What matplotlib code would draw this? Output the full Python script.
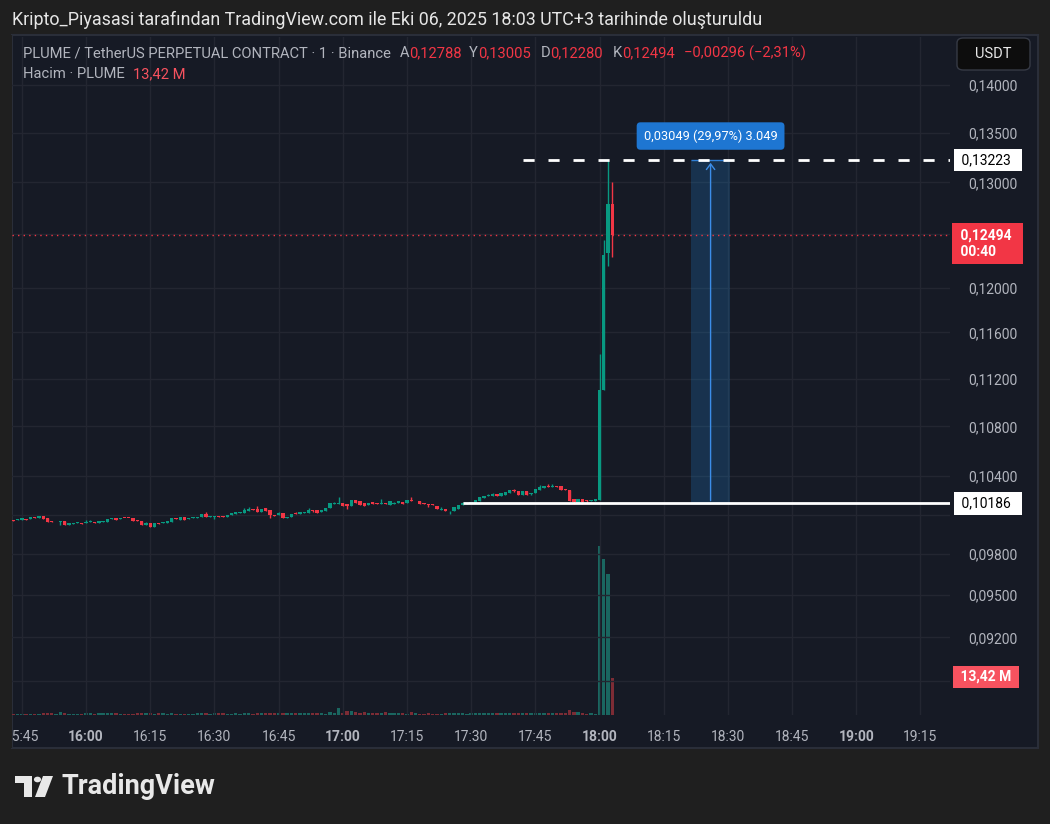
import numpy as np
import matplotlib.pyplot as plt
from matplotlib.patches import Rectangle, FancyBboxPatch, Circle, Polygon
from matplotlib.transforms import blended_transform_factory

plt.rcParams['font.family'] = ['Roboto', 'DejaVu Sans']

W, H = 1050, 824

# time axis: minutes counted from the first candle (15:43)
start_time = '15:43'
time_labels = ['15:45', '16:00', '16:15', '16:30', '16:45', '17:00', '17:15',
               '17:30', '17:45', '18:00', '18:15', '18:30', '18:45', '19:00', '19:15']

price_ticks = [0.14, 0.135, 0.13, 0.125, 0.12, 0.116, 0.112, 0.108, 0.104,
               0.101, 0.098, 0.095, 0.092, 0.089]
hidden_ticks = [0.125, 0.101, 0.089]   # covered by the price-scale boxes

opens = [0.10057, 0.10062, 0.10057, 0.10067, 0.10065, 0.10080, 0.10072, 0.10092, 0.10070, 0.10047,
         0.10047, 0.10045, 0.10050, 0.10019, 0.10027, 0.10037, 0.10037, 0.10037, 0.10041, 0.10040,
         0.10037, 0.10042, 0.10042, 0.10065, 0.10077, 0.10065, 0.10077, 0.10077, 0.10072, 0.10055,
         0.10047, 0.10019, 0.10032, 0.10004, 0.10032, 0.10035, 0.10035, 0.10042, 0.10070, 0.10057,
         0.10085, 0.10067, 0.10072, 0.10077, 0.10080, 0.10108, 0.10080, 0.10085, 0.10092, 0.10087,
         0.10080, 0.10100, 0.10103, 0.10110, 0.10110, 0.10130, 0.10143, 0.10143, 0.10123, 0.10148,
         0.10138, 0.10100, 0.10097, 0.10110, 0.10077, 0.10080, 0.10113, 0.10105, 0.10115, 0.10115,
         0.10138, 0.10138, 0.10118, 0.10125, 0.10150, 0.10181, 0.10178, 0.10186, 0.10178, 0.10163,
         0.10213, 0.10203, 0.10186, 0.10171, 0.10196, 0.10191, 0.10178, 0.10193, 0.10176, 0.10178,
         0.10186, 0.10198, 0.10186, 0.10213, 0.10201, 0.10206, 0.10188, 0.10181, 0.10183, 0.10168,
         0.10138, 0.10145, 0.10125, 0.10125, 0.10145, 0.10173, 0.10181, 0.10188, 0.10186, 0.10208,
         0.10228, 0.10244, 0.10246, 0.10259, 0.10246, 0.10251, 0.10269, 0.10289, 0.10281, 0.10251,
         0.10284, 0.10259, 0.10266, 0.10289, 0.10307, 0.10322, 0.10314, 0.10324, 0.10319, 0.10297,
         0.10289, 0.10218, 0.10193, 0.10218, 0.10213, 0.10201, 0.10201, 0.10212, 0.11100, 0.12324,
         0.12788]

closes = [0.10050, 0.10063, 0.10070, 0.10060, 0.10080, 0.10072, 0.10092, 0.10065, 0.10042, 0.10040,
          0.10048, 0.10047, 0.10019, 0.10032, 0.10032, 0.10040, 0.10030, 0.10042, 0.10042, 0.10037,
          0.10050, 0.10050, 0.10067, 0.10077, 0.10062, 0.10077, 0.10072, 0.10072, 0.10050, 0.10047,
          0.10019, 0.10032, 0.10004, 0.10032, 0.10027, 0.10042, 0.10050, 0.10070, 0.10065, 0.10085,
          0.10062, 0.10072, 0.10080, 0.10085, 0.10108, 0.10080, 0.10087, 0.10092, 0.10085, 0.10080,
          0.10100, 0.10115, 0.10120, 0.10118, 0.10138, 0.10143, 0.10135, 0.10123, 0.10143, 0.10128,
          0.10095, 0.10092, 0.10110, 0.10072, 0.10085, 0.10108, 0.10103, 0.10118, 0.10123, 0.10138,
          0.10128, 0.10110, 0.10133, 0.10153, 0.10186, 0.10186, 0.10186, 0.10163, 0.10163, 0.10213,
          0.10191, 0.10173, 0.10163, 0.10191, 0.10178, 0.10178, 0.10193, 0.10178, 0.10206, 0.10188,
          0.10203, 0.10178, 0.10213, 0.10208, 0.10208, 0.10178, 0.10181, 0.10176, 0.10173, 0.10140,
          0.10145, 0.10125, 0.10130, 0.10155, 0.10173, 0.10191, 0.10193, 0.10193, 0.10213, 0.10234,
          0.10244, 0.10251, 0.10256, 0.10246, 0.10264, 0.10276, 0.10289, 0.10281, 0.10251, 0.10281,
          0.10251, 0.10266, 0.10297, 0.10312, 0.10322, 0.10314, 0.10322, 0.10314, 0.10294, 0.10287,
          0.10206, 0.10196, 0.10223, 0.10198, 0.10206, 0.10211, 0.10221, 0.11103, 0.12302, 0.12788,
          0.12494]

# wicks that stick out beyond the body (candle index -> price)
wick_highs = {17: 0.10055, 18: 0.10055, 31: 0.10042, 45: 0.10123, 54: 0.10153, 55: 0.10160,
              57: 0.10163, 62: 0.10123, 66: 0.10123, 69: 0.10150, 75: 0.10198, 76: 0.10239,
              86: 0.10218, 89: 0.10198, 93: 0.10234, 100: 0.10160, 105: 0.10198, 111: 0.10261,
              112: 0.10269, 117: 0.10297, 123: 0.10327, 125: 0.10334, 126: 0.10334,
              137: 0.11411, 138: 0.12443, 139: 0.13223, 140: 0.13005}
wick_lows = {11: 0.10022, 24: 0.10055, 47: 0.10065, 60: 0.10072, 70: 0.10118, 78: 0.10145,
             97: 0.10158, 102: 0.10103, 113: 0.10241, 117: 0.10274, 121: 0.10251, 131: 0.10183,
             133: 0.10183, 134: 0.10193, 139: 0.12202, 140: 0.12280}

# volume in millions
volumes = [0.25, 0.5, 0.25, 0.25, 0.25, 0.25, 0.25, 0.73, 0.73, 0.73,
           0.25, 0.97, 0.6, 0.25, 0.25, 0.25, 0.25, 0.6, 0.73, 0.36,
           0.73, 0.6, 0.6, 0.6, 0.6, 0.25, 0.25, 0.25, 0.25, 0.73,
           0.73, 0.73, 0.73, 0.25, 0.73, 0.6, 0.36, 0.6, 0.25, 0.25,
           0.25, 0.25, 0.25, 0.6, 0.6, 0.6, 0.25, 0.6, 0.6, 0.6,
           0.25, 0.25, 0.6, 0.36, 0.6, 0.6, 0.25, 0.6, 0.6, 0.6,
           0.6, 0.6, 0.6, 0.6, 0.6, 0.6, 0.6, 0.6, 0.6, 0.6,
           0.6, 0.6, 0.6, 0.25, 0.97, 0.6, 2.7, 0.6, 1.33, 1.33,
           0.97, 0.73, 0.97, 0.6, 0.6, 0.6, 0.6, 0.97, 0.6, 0.6,
           0.6, 0.6, 0.25, 0.97, 0.6, 0.25, 0.25, 0.6, 0.25, 0.25,
           0.25, 0.6, 0.6, 0.6, 0.6, 0.6, 0.25, 0.6, 0.6, 0.6,
           0.6, 0.6, 0.6, 0.6, 0.6, 0.6, 0.6, 0.6, 0.6, 0.6,
           0.6, 0.6, 0.6, 0.6, 0.6, 0.6, 0.6, 0.6, 0.6, 0.6,
           1.8, 0.97, 0.97, 0.6, 0.25, 0.6, 0.25, 62.0, 57.0, 51.5,
           13.42]

last_price = 0.12494
measure_low, measure_high = 0.10186, 0.13223
measure_text = '0,03049 (29,97%) 3.049'
measure_span = (158.3, 167.6)   # minutes after 15:43, drawing-tool box
hline_start = 105.1
dashed_start = 119.1

BG = '#161a25'
OUT = '#1f1f1f'
GREEN = '#089981'
RED = '#f23645'
GRID = '#232631'
TXT = '#b2b5be'


def fx(px):
    return px / W


def fy(py):
    return 1 - py / H


def minutes(label):
    h, m = label.split(':')
    h0, m0 = start_time.split(':')
    return (int(h) * 60 + int(m)) - (int(h0) * 60 + int(m0))


fig = plt.figure(figsize=(W / 100, H / 100), dpi=100)
fig.patch.set_facecolor(OUT)

# chart panel
fig.patches.append(Rectangle((fx(12), fy(748)), fx(1038) - fx(12), fy(35) - fy(748),
                             transform=fig.transFigure, facecolor=BG,
                             edgecolor='#2a2e39', lw=1.5, zorder=-5))

rect = [fx(12), fy(715), fx(950) - fx(12), fy(37) - fy(715)]
ax_v = fig.add_axes(rect)
ax = fig.add_axes(rect)

x = np.arange(len(closes))
o = np.array(opens)
c = np.array(closes)
up = c >= o
highs = np.maximum(o, c)
lows = np.minimum(o, c)
for i, v in wick_highs.items():
    highs[i] = v
for i, v in wick_lows.items():
    lows[i] = v
cols = np.where(up, GREEN, RED)

# volume
ax_v.patch.set_visible(False)
vcols = np.where(up, '#1a6660', '#7d2c35')
ax_v.bar(x, volumes, width=0.78, color=vcols, linewidth=0)
ax_v.set_xlim(-0.3, 218.9)
ax_v.set_ylim(0, 248)
ax_v.axis('off')

# candles
ax.patch.set_visible(False)
ax.set_yscale('log')
ax.set_xlim(-0.3, 218.9)
ax.set_ylim(0.08673, 0.14519)
ax.vlines(x, lows, highs, color=cols, lw=1, zorder=3)
body = np.maximum(np.abs(c - o), 0.00006)
ax.bar(x, body, bottom=np.minimum(o, c), width=0.78, color=cols, linewidth=0, zorder=4)

# grid and ticks
tpos = [minutes(t) for t in time_labels]
ax.set_xticks(tpos)
ax.set_xticklabels(time_labels)
for lab, t in zip(ax.get_xticklabels(), time_labels):
    lab.set_fontweight('bold' if t.endswith(':00') else 'normal')
ax.set_yticks(price_ticks)
ax.set_yticklabels(['' if p in hidden_ticks else f'{p:.5f}'.replace('.', ',')
                    for p in price_ticks])
ax.yaxis.set_minor_locator(plt.NullLocator())
ax.yaxis.tick_right()
ax.tick_params(axis='y', length=0, pad=13, labelsize=10, labelcolor=TXT)
ax.tick_params(axis='x', length=0, pad=11, labelsize=10, labelcolor=TXT)
ax.grid(True, color=GRID, lw=1)
ax.set_axisbelow(True)
for s in ax.spines.values():
    s.set_visible(False)

# price lines
ax.hlines(last_price, -0.3, 218.9, color=RED, lw=1, linestyles=(0, (1, 3)), zorder=2)
ax.hlines(measure_low, hline_start, 218.9, color='white', lw=2, zorder=5)
ax.hlines(measure_high, dashed_start, 218.9, color='white', lw=2,
          linestyles=(0, (4, 5)), zorder=5)

# measure tool
ax.fill_between(measure_span, measure_low, measure_high, color='#2196f3', alpha=0.2,
                lw=0, zorder=1)
ax.hlines([measure_low, measure_high], *measure_span, color='#2f7fd6', lw=1, zorder=2)
mid = sum(measure_span) / 2
ax.annotate('', xy=(mid, measure_high), xytext=(mid, measure_low),
            arrowprops=dict(arrowstyle='->,head_length=0.4,head_width=0.3',
                            color='#3b8de8', lw=1), zorder=2)
ax.annotate(measure_text, xy=(mid, measure_high), xytext=(0, 24), textcoords='offset pixels',
            ha='center', va='center', color='white', fontsize=9.2,
            bbox=dict(boxstyle='round,pad=0.55,rounding_size=0.3', fc='#1e76d2', ec='none'))

# price scale labels
bt = blended_transform_factory(fig.transFigure, ax.transData)
ax.text(fx(958), measure_high, ' 0,13223  ', transform=bt, va='center', ha='left',
        fontsize=10, color='black',
        bbox=dict(boxstyle='square,pad=0.3', fc='white', ec='none'), zorder=10)
ax.text(fx(958), measure_low, ' 0,10186  ', transform=bt, va='center', ha='left',
        fontsize=10, color='black',
        bbox=dict(boxstyle='square,pad=0.3', fc='white', ec='none'), zorder=10)
ax.annotate(' 0,12494  \n 00:40', xy=(fx(957), last_price), xycoords=bt,
            xytext=(0, -9), textcoords='offset pixels', va='center', ha='left',
            fontsize=10, color='white', fontweight='bold', linespacing=1.25,
            bbox=dict(boxstyle='square,pad=0.35', fc=RED, ec='none'), zorder=10)
fig.text(fx(957), fy(677), ' 13,42 M ', va='center', ha='left', fontsize=10,
         color='white', fontweight='bold',
         bbox=dict(boxstyle='square,pad=0.3', fc='#f7525f', ec='none'), zorder=10)

# cover the label overflowing at the left border
fig.patches.append(Rectangle((0, fy(748)), fx(11.5), fy(35) - fy(748),
                             transform=fig.transFigure, facecolor=OUT, lw=0, zorder=20))

# USDT button
fig.patches.append(FancyBboxPatch((fx(957), fy(70)), fx(1030) - fx(957), fy(38) - fy(70),
                                  boxstyle='round,pad=0,rounding_size=0.006',
                                  transform=fig.transFigure, fc='#0d0d0d',
                                  ec='#363a45', lw=1, zorder=10))
fig.text(fx(993), fy(54), 'USDT', ha='center', va='center', color='#e8e8e8',
         fontsize=10.5, zorder=11)

# header texts
fig.text(fx(12), fy(20), 'Kripto_Piyasasi tarafından TradingView.com ile Eki 06, 2025 18:03 '
         'UTC+3 tarihinde oluşturuldu', va='center', ha='left', color='#e6e6e6', fontsize=12.9)
legend_parts = [(23, 'PLUME / TetherUS PERPETUAL CONTRACT · 1 · Binance', TXT),
                (400, 'A', TXT), (409, '0,12788', RED),
                (469, 'Y', TXT), (478, '0,13005', RED),
                (541, 'D', TXT), (550, '0,12280', RED),
                (613, 'K', TXT), (622, '0,12494', RED),
                (684, '−0,00296 (−2,31%)', RED)]
for px, s, col in legend_parts:
    fig.text(fx(px), fy(53), s, va='center', ha='left', color=col, fontsize=10.6)
fig.text(fx(23), fy(74), 'Hacim · PLUME', va='center', ha='left', color=TXT, fontsize=10.6)
fig.text(fx(133), fy(74), '13,42 M', va='center', ha='left', color='#f7525f', fontsize=10.6)

# TradingView logo
logo = '#e8e8e8'
fig.patches.append(Polygon([(fx(15), fy(776)), (fx(32), fy(776)), (fx(32), fy(797)),
                            (fx(24), fy(797)), (fx(24), fy(783)), (fx(15), fy(783))],
                           closed=True, transform=fig.transFigure, fc=logo, ec='none'))
fig.patches.append(Circle((fx(37.5), fy(779.5)), 3.6 / W, transform=fig.transFigure,
                          fc=logo, ec='none'))
fig.patches.append(Polygon([(fx(43), fy(776)), (fx(53), fy(776)), (fx(45), fy(797)),
                            (fx(35), fy(797))],
                           closed=True, transform=fig.transFigure, fc=logo, ec='none'))
fig.text(fx(61), fy(787), 'TradingView', va='center', ha='left', color=logo,
         fontsize=19.5, fontweight='bold')

fig.savefig('out.png', dpi=100, facecolor=OUT)
